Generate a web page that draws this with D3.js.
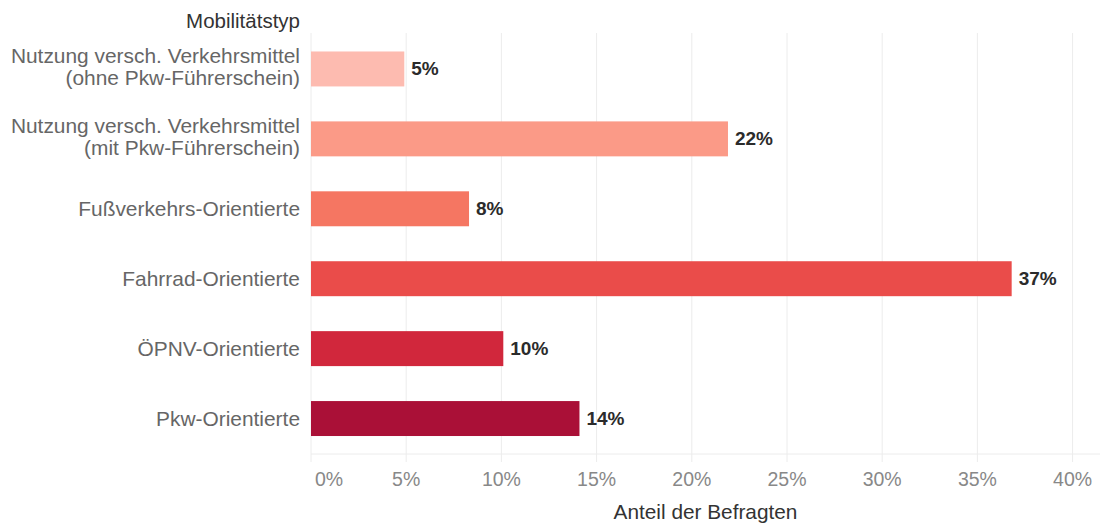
<!DOCTYPE html>
<html>
<head>
<meta charset="utf-8">
<script src="https://cdn.jsdelivr.net/npm/d3@7"></script>
<style>
  html, body { margin: 0; padding: 0; background: #fff; }
  svg { display: block; font-family: "Liberation Sans", Arial, Helvetica, sans-serif; }
</style>
</head>
<body>
<svg id="chart" width="1102" height="527"></svg>
<script>
const categories = [
  ["Nutzung versch. Verkehrsmittel", "(ohne Pkw-Führerschein)"],
  ["Nutzung versch. Verkehrsmittel", "(mit Pkw-Führerschein)"],
  ["Fußverkehrs-Orientierte"],
  ["Fahrrad-Orientierte"],
  ["ÖPNV-Orientierte"],
  ["Pkw-Orientierte"]
];
const shares = [0.049, 0.219, 0.083, 0.368, 0.101, 0.141];
const barColors = ["#FDBBB0", "#FB9A87", "#F57662", "#EA4C4A", "#D1273C", "#AA1037"];
const xTicks = [0, 0.05, 0.10, 0.15, 0.20, 0.25, 0.30, 0.35, 0.40];
const yTitle = "Mobilitätstyp";
const xTitle = "Anteil der Befragten";

(function () {
const svg = d3.select("#chart");
const mLeft = 311, mRight = 1072.6, plotRight = 1100, mTop = 34, mBottom = 453.5;

const x = d3.scaleLinear().domain([0, 0.4]).range([mLeft, mRight]);
const y = d3.scaleBand().domain(d3.range(categories.length)).range([mTop, mBottom])
  .paddingInner(0.5).paddingOuter(0.25);

const fmt = d3.format(".0%");

// vertical grid lines
svg.append("g").selectAll("line").data(xTicks).join("line")
  .attr("x1", d => x(d)).attr("x2", d => x(d))
  .attr("y1", 33).attr("y2", 462)
  .attr("stroke", "#ececec").attr("stroke-width", 1);

// baseline horizontal line
svg.append("line")
  .attr("x1", mLeft).attr("x2", plotRight)
  .attr("y1", 454).attr("y2", 454)
  .attr("stroke", "#ececec").attr("stroke-width", 1);

// bars
svg.append("g").selectAll("rect").data(shares).join("rect")
  .attr("x", x(0))
  .attr("y", (d, i) => y(i))
  .attr("width", d => x(d) - x(0))
  .attr("height", y.bandwidth())
  .attr("fill", (d, i) => barColors[i]);

// value labels
svg.append("g").selectAll("text").data(shares).join("text")
  .attr("x", d => x(d) + 7)
  .attr("y", (d, i) => y(i) + y.bandwidth() / 2 + 6.5)
  .attr("font-size", "19px").attr("font-weight", "bold")
  .attr("fill", "#2b2b2b")
  .text(d => fmt(d));

// category labels
const catG = svg.append("g");
categories.forEach((lines, i) => {
  const cy = y(i) + y.bandwidth() / 2;
  const t = catG.append("text")
    .attr("text-anchor", "end")
    .attr("font-size", "20.9px")
    .attr("fill", "#666");
  if (lines.length === 1) {
    t.append("tspan").attr("x", 300).attr("y", cy + 7).text(lines[0]);
  } else {
    t.append("tspan").attr("x", 300).attr("y", cy - 6).text(lines[0]);
    t.append("tspan").attr("x", 300).attr("y", cy + 16).text(lines[1]);
  }
});

// y title
svg.append("text")
  .attr("x", 300).attr("y", 28)
  .attr("text-anchor", "end")
  .attr("font-size", "20.5px").attr("fill", "#333")
  .text(yTitle);

// x tick labels
svg.append("g").selectAll("text").data(xTicks).join("text")
  .attr("x", d => d === 0 ? x(d) + 4 : x(d))
  .attr("y", 486)
  .attr("text-anchor", d => d === 0 ? "start" : "middle")
  .attr("font-size", "19.5px").attr("fill", "#888")
  .text(d => fmt(d));

// x title
svg.append("text")
  .attr("x", (mLeft + plotRight) / 2).attr("y", 519)
  .attr("text-anchor", "middle")
  .attr("font-size", "20.8px").attr("fill", "#333")
  .text(xTitle);
})();
</script>
</body>
</html>
